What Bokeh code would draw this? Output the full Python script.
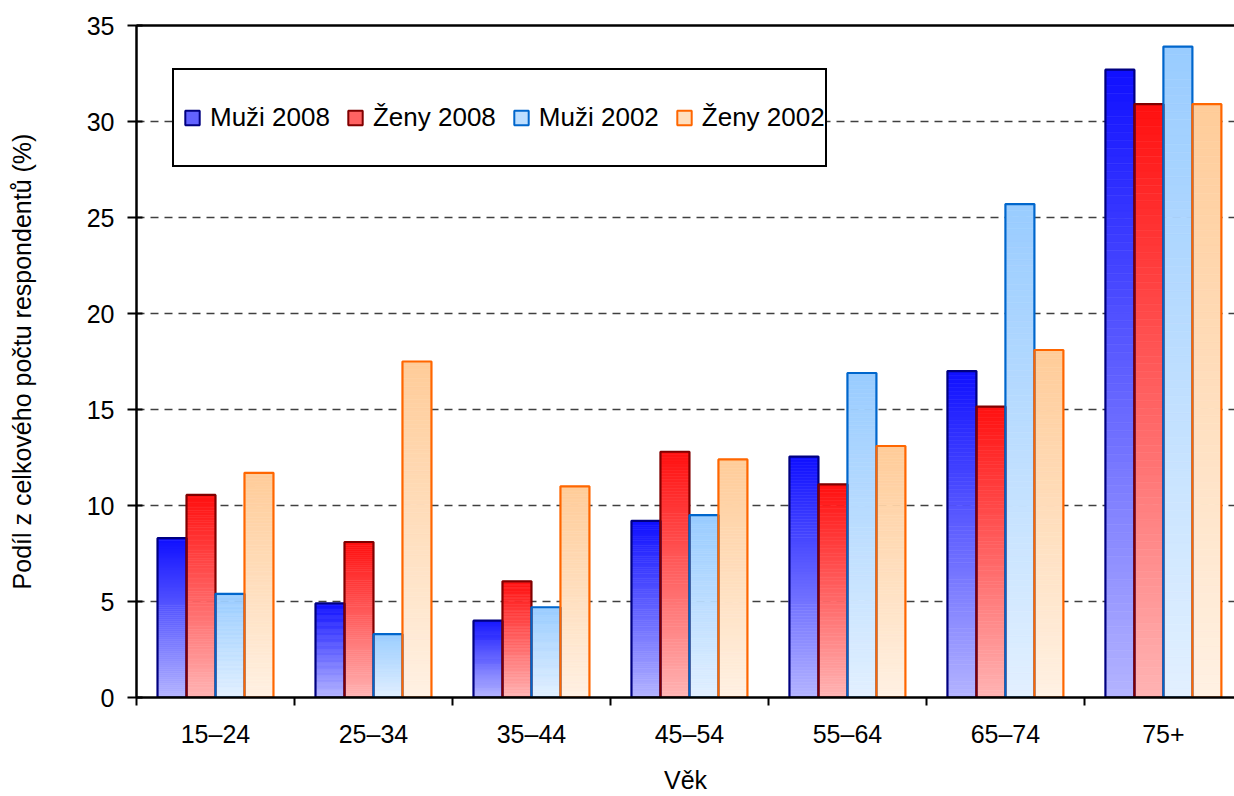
from bokeh.plotting import figure
from bokeh.models import (ColumnDataSource, Range1d, FixedTicker, LinearAxis,
                          Legend, LegendItem)
from bokeh.embed import file_html
from bokeh.resources import INLINE

# ---- data ----
categories = ["15–24", "25–34", "35–44", "45–54", "55–64", "65–74", "75+"]
series_names = ["Muži 2008", "Ženy 2008", "Muži 2002", "Ženy 2002"]
muzi_2008 = [8.3, 4.9, 4.0, 9.2, 12.55, 17.0, 32.7]
zeny_2008 = [10.55, 8.1, 6.05, 12.8, 11.1, 15.15, 30.9]
muzi_2002 = [5.4, 3.3, 4.7, 9.5, 16.9, 25.7, 33.9]
zeny_2002 = [11.7, 17.5, 11.0, 12.4, 13.1, 18.1, 30.9]
y_ticks = [0, 5, 10, 15, 20, 25, 30, 35]

# ---- styles ----
FONT = "Liberation Sans"
top_colors = ["#1010ff", "#ff1010", "#99ccff", "#ffcc99"]
bottom_colors = ["#b4b4ff", "#ffb4b4", "#e2f0ff", "#fff1e3"]
mid_colors = ["#6262ff", "#ff6262", "#bddeff", "#ffdfbe"]
line_colors = ["#000080", "#800000", "#0066cc", "#ff6600"]
BAR_W = 0.1835
N_STEPS = 80


def hex2rgb(h):
    h = h.lstrip("#")
    return tuple(int(h[i:i + 2], 16) for i in (0, 2, 4))


def mix(c0, c1, t):
    a, b = hex2rgb(c0), hex2rgb(c1)
    return "#%02x%02x%02x" % tuple(round(a[i] + (b[i] - a[i]) * t) for i in range(3))


p = figure(width=1234, height=796,
           x_range=Range1d(0, 6.95), y_range=Range1d(0, 35),
           output_backend="svg", toolbar_location=None,
           min_border_left=136, min_border_right=0,
           min_border_top=25, min_border_bottom=99)
p.outline_line_color = None
p.background_fill_color = "white"
p.border_fill_color = "white"

# ---- bars (vertical gradient built from stacked slices) ----
all_series = [muzi_2008, zeny_2008, muzi_2002, zeny_2002]
for s, vals in enumerate(all_series):
    off = (s - 1.5) * BAR_W
    xs, bots, tops, cols = [], [], [], []
    for i, v in enumerate(vals):
        for k in range(N_STEPS):
            xs.append(i + 0.5 + off)
            bots.append(v * k / N_STEPS)
            tops.append(v * (k + 1) / N_STEPS)
            cols.append(mix(bottom_colors[s], top_colors[s], (k + 0.5) / N_STEPS))
    src = ColumnDataSource(dict(x=xs, bottom=bots, top=tops, color=cols))
    p.vbar(x="x", bottom="bottom", top="top", width=BAR_W, source=src,
           fill_color="color", line_color="color", line_width=0.6)

for s, vals in enumerate(all_series):
    off = (s - 1.5) * BAR_W
    p.vbar(x=[i + 0.5 + off for i in range(len(vals))], top=vals, bottom=0,
           width=BAR_W, fill_color=None, line_color=line_colors[s], line_width=2.2)

legend_renderers = []
for s in range(len(all_series)):
    r = p.scatter(x=[float("nan")], y=[float("nan")], marker="square", size=14,
                  fill_color=mid_colors[s], line_color=line_colors[s], line_width=2)
    legend_renderers.append(r)

# ---- axes ----
xa = p.xaxis[0]
xa.ticker = FixedTicker(ticks=[i + 0.5 for i in range(len(categories))],
                        minor_ticks=list(range(len(categories) + 1)))
xa.major_label_overrides = {i + 0.5: c for i, c in enumerate(categories)}
xa.major_tick_line_color = None
xa.major_tick_out = 8
xa.major_tick_in = 0
xa.minor_tick_line_color = "black"
xa.minor_tick_line_width = 2
xa.minor_tick_out = 8
xa.minor_tick_in = 0
xa.axis_line_color = "black"
xa.axis_line_width = 2.5
xa.major_label_text_font = FONT
xa.major_label_text_font_size = "25px"
xa.major_label_text_color = "black"
xa.major_label_standoff = 14
xa.axis_label = "Věk"
xa.axis_label_text_font = FONT
xa.axis_label_text_font_size = "25px"
xa.axis_label_text_font_style = "normal"
xa.axis_label_text_color = "black"
xa.axis_label_standoff = 15

ya = p.yaxis[0]
ya.ticker = FixedTicker(ticks=y_ticks)
ya.major_tick_line_color = "black"
ya.major_tick_line_width = 2
ya.major_tick_out = 9
ya.major_tick_in = 6
ya.minor_tick_line_color = None
ya.axis_line_color = "black"
ya.axis_line_width = 2.5
ya.major_label_text_font = FONT
ya.major_label_text_font_size = "25px"
ya.major_label_text_color = "black"
ya.major_label_standoff = 13
ya.axis_label = "Podíl z celkového počtu respondentů (%)"
ya.axis_label_text_font = FONT
ya.axis_label_text_font_size = "25px"
ya.axis_label_text_font_style = "normal"
ya.axis_label_text_color = "black"
ya.axis_label_standoff = 48

top_axis = LinearAxis(ticker=FixedTicker(ticks=[]), axis_line_color="black",
                      axis_line_width=2.5, major_tick_line_color=None,
                      minor_tick_line_color=None, major_label_text_font_size="0px",
                      major_label_standoff=0, major_tick_out=0, minor_tick_out=0)
p.add_layout(top_axis, "above")

p.xgrid.visible = False
p.ygrid.ticker = FixedTicker(ticks=y_ticks[1:-1])
p.ygrid.grid_line_color = "#404040"
p.ygrid.grid_line_width = 1.3
p.ygrid.grid_line_dash = "8 6"

# ---- legend ----
legend = Legend(items=[LegendItem(label=n, renderers=[r])
                       for n, r in zip(series_names, legend_renderers)],
                orientation="horizontal", location=(36, 530),
                glyph_width=36, glyph_height=95, label_height=95,
                padding=0, spacing=7, label_standoff=-3, margin=0,
                label_text_font=FONT, label_text_font_size="26px",
                label_text_color="black",
                border_line_color="black", border_line_width=2,
                border_line_alpha=1.0,
                background_fill_color="white", background_fill_alpha=1.0)
p.add_layout(legend)

open("out.html", "w").write(file_html(p, INLINE))
